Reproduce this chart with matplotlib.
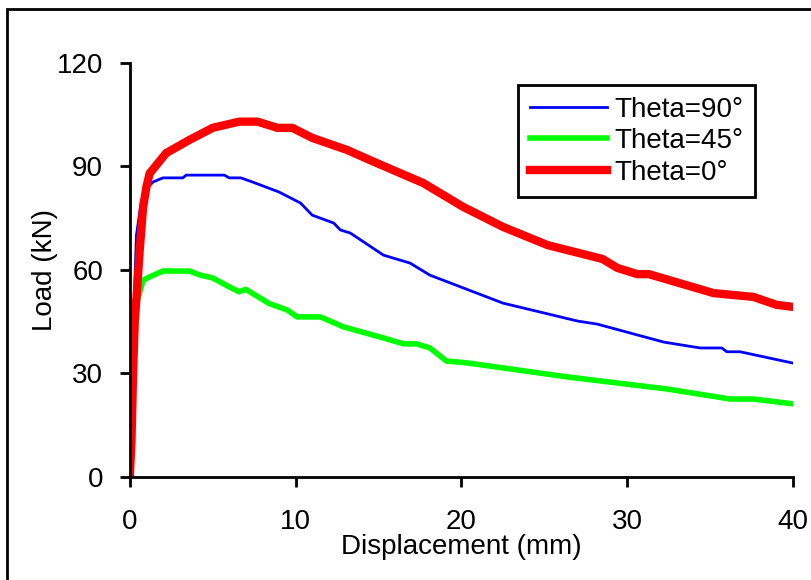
import matplotlib
matplotlib.use('Agg')
import matplotlib.pyplot as plt
from matplotlib.patches import Rectangle

plt.rcParams['font.family'] = ['Liberation Sans', 'DejaVu Sans']

# Load-displacement curves
disp_90 = [0, 0.2, 0.4, 0.7, 1.2, 1.4, 2.0, 3.2, 3.4, 5.7, 6.0, 6.7, 7.4, 9.0, 10.3, 11.0, 12.3,
           12.7, 13.3, 15.3, 16.9, 18.1, 22.5, 27.0, 28.2, 32.2, 34.0, 34.4, 35.7, 36.0, 36.8, 40.0]
load_90 = [0, 40, 70, 80, 84.5, 85.5, 86.7, 86.7, 87.5, 87.5, 86.7, 86.7, 85.5, 82.6, 79.4, 75.9, 73.6,
           71.6, 70.7, 64.3, 62.0, 58.5, 50.4, 45.2, 44.3, 39.1, 37.7, 37.4, 37.4, 36.3, 36.3, 33.0]

disp_45 = [0, 0.2, 0.4, 0.8, 1.2, 2.0, 3.6, 4.2, 5.0, 6.0, 6.6, 7.0, 8.4, 9.5, 10.1, 11.5, 12.9,
           15.3, 16.5, 17.3, 18.1, 19.1, 20.3, 26.4, 32.4, 36.2, 37.6, 40.0]
load_45 = [0, 30, 50, 57, 58, 59.7, 59.7, 58.6, 57.7, 55.1, 53.7, 54.4, 50.3, 48.4, 46.4, 46.4, 43.5,
           40.3, 38.6, 38.6, 37.4, 33.6, 33.1, 29.0, 25.5, 22.6, 22.6, 21.2]

disp_0 = [0, 0.1, 0.2, 0.3, 0.45, 0.6, 0.8, 1.0, 1.2, 2.2, 3.6, 5.0, 6.6, 7.7, 8.9, 9.8, 11.0, 13.1,
          14.7, 17.7, 20.1, 22.5, 25.2, 28.5, 29.4, 30.6, 31.3, 35.2, 37.6, 39.0, 40.0]
load_0 = [0, 10, 30, 45, 55, 65.8, 78, 84, 88, 93.9, 97.7, 101.2, 103, 103, 101.2, 101.2, 98.3, 94.8,
          91.4, 85.2, 78.3, 72.5, 67.2, 63.2, 60.6, 58.8, 58.8, 53.3, 52.2, 49.9, 49.3]

x_ticks = [0, 10, 20, 30, 40]
y_ticks = [0, 30, 60, 90, 120]

fig = plt.figure(figsize=(8.11, 5.80), dpi=100)
ax = fig.add_axes([0.160, 0.1776, 0.818, 0.7138])

ax.plot(disp_90, load_90, color='#0000ff', lw=2.0, label='Theta=90°')
ax.plot(disp_45, load_45, color='#00ff00', lw=4.0, label='Theta=45°')
ax.plot(disp_0, load_0, color='#ff0000', lw=6.0, label='Theta=0°')

ax.set_xlim(0, 40)
ax.set_ylim(0, 120)
ax.set_xticks(x_ticks)
ax.set_yticks(y_ticks)

for s in ['top', 'right']:
    ax.spines[s].set_visible(False)
for s in ['left', 'bottom']:
    ax.spines[s].set_linewidth(2)

ax.tick_params(axis='both', direction='out', length=7.2, width=2, labelsize=20)
ax.tick_params(axis='x', pad=16)
ax.tick_params(axis='y', pad=12)

ax.set_xlabel('Displacement (mm)', fontsize=20, labelpad=-1)
ax.set_ylabel('Load (kN)', fontsize=20, labelpad=-1)

leg = ax.legend(loc='upper left', bbox_to_anchor=(0.585, 0.947), borderaxespad=0,
                fontsize=20, handlelength=2.8, labelspacing=0.2, handletextpad=0.25,
                fancybox=False, framealpha=1, borderpad=0.42)
leg.get_frame().set_edgecolor('black')
leg.get_frame().set_linewidth(2)

# border around the whole figure
fig.patches.append(Rectangle((7 / 811, -0.1), 1.0, 1 - 9 / 580 + 0.1, transform=fig.transFigure,
                             fill=False, edgecolor='black', lw=2, figure=fig))

fig.savefig('out.png', dpi=100)
